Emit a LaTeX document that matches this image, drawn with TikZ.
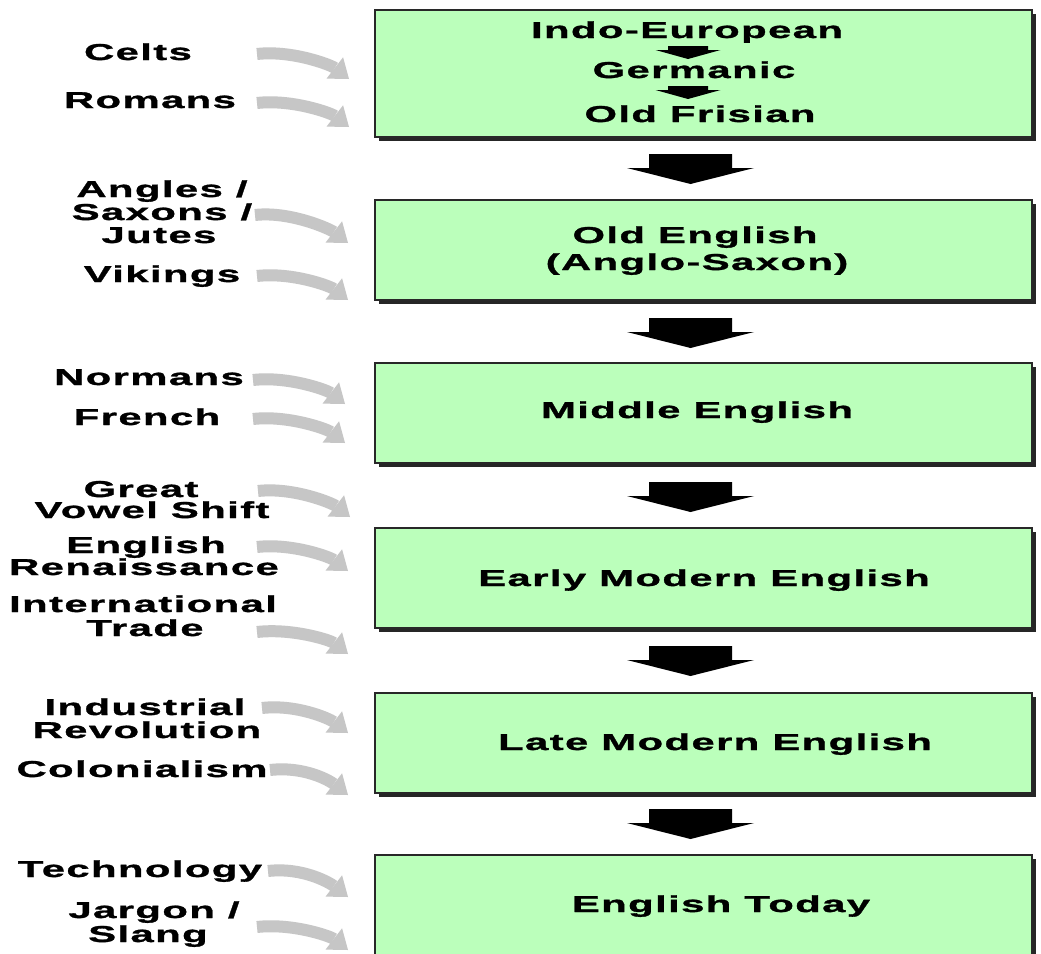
\documentclass[tikz,border=0pt]{standalone}
\usepackage{fontspec}
\newfontfamily\dfont{Liberation Sans}[FakeStretch=1.82,LetterSpace=6,FakeBold=1.3]
\usetikzlibrary{arrows.meta,shadows}
\definecolor{boxgreen}{RGB}{187,255,187}
\definecolor{garrowc}{RGB}{198,198,198}
\definecolor{boxline}{RGB}{40,40,40}
\tikzset{
 lbl/.style={font=\dfont\bfseries\fontsize{23}{23}\selectfont, inner sep=0pt, anchor=base},
 stage/.style={draw=boxline, line width=2pt, fill=boxgreen, minimum width=657pt, inner sep=0pt,
   drop shadow={shadow xshift=4pt, shadow yshift=-3.5pt, fill=black!85, opacity=1}},
 garrow/.style={draw=garrowc, line width=12pt, -{Triangle[width=27pt,length=18pt,line width=0pt]}},
 bigarr/.pic={\fill[black] (-41.5,0) -- (41.5,0) -- (41.5,14) -- (63.5,14) -- (0,30) -- (-63.5,14) -- (-41.5,14) -- cycle;},
 smallarr/.pic={\fill[black] (-20,0) -- (20,0) -- (20,4) -- (32.5,4) -- (0,13) -- (-32.5,4) -- (-20,4) -- cycle;}
}
\begin{document}
\begin{tikzpicture}[x=1pt,y=-1pt]
\useasboundingbox[fill=white] (0,0) rectangle (1041,953);

% stage boxes
\node[stage, minimum height=127pt] (b1) at (703.5,73.5) {};
\node[stage, minimum height=100pt] (b2) at (703.5,250) {};
\node[stage, minimum height=100pt] (b3) at (703.5,413) {};
\node[stage, minimum height=100pt] (b4) at (703.5,578) {};
\node[stage, minimum height=100pt] (b5) at (703.5,743) {};
\node[stage, minimum height=100pt] (b6) at (703.5,905) {};

% box texts
\node[lbl] (t1) at (687,38) {Indo-European};
\node[lbl] (t2) at (694,78) {Germanic};
\node[lbl] (t3) at (700,122) {Old Frisian};
\node[lbl] (t4) at (695,243) {Old English};
\node[lbl] (t5) at (697,270) {(Anglo-Saxon)};
\node[lbl] (t6) at (697,418) {Middle English};
\node[lbl] (t7) at (704,586) {Early Modern English};
\node[lbl] (t8) at (715,750) {Late Modern English};
\node[lbl] (t9) at (721,912) {English Today};

% small arrows inside first box
\coordinate (s1) at (688,46);
\coordinate (s2) at (688,86);
\pic at (s1) {smallarr};
\pic at (s2) {smallarr};

% big arrows between boxes
\pic at ([xshift=-13pt,yshift=-16pt]b1.south) {bigarr};
\pic at ([xshift=-13pt,yshift=-17pt]b2.south) {bigarr};
\pic at ([xshift=-13pt,yshift=-18pt]b3.south) {bigarr};
\pic at ([xshift=-13pt,yshift=-17pt]b4.south) {bigarr};
\pic at ([xshift=-13pt,yshift=-15pt]b5.south) {bigarr};

% influence labels
\node[lbl] (l1) at (138,60) {Celts};
\node[lbl] (l2) at (150,108) {Romans};
\node[lbl] (l3a) at (162,197) {Angles /};
\node[lbl] (l3b) at (162,220) {Saxons /};
\node[lbl] (l3c) at (159,243) {Jutes};
\node[lbl] (l4) at (162,282) {Vikings};
\node[lbl] (l5) at (149,385) {Normans};
\node[lbl] (l6) at (147,425) {French};
\node[lbl] (l7a) at (141,497) {Great};
\node[lbl] (l7b) at (152,518) {Vowel Shift};
\node[lbl] (l8a) at (146,553) {English};
\node[lbl] (l8b) at (144,575) {Renaissance};
\node[lbl] (l9a) at (143,612) {International};
\node[lbl] (l9b) at (145,636) {Trade};
\node[lbl] (l10a) at (145,715) {Industrial};
\node[lbl] (l10b) at (147,738) {Revolution};
\node[lbl] (l11) at (142,777) {Colonialism};
\node[lbl] (l12) at (140,877) {Technology};
\node[lbl] (l13a) at (154,918) {Jargon /};
\node[lbl] (l13b) at (148,942) {Slang};

% gray influence arrows
\foreach \n/\sx/\sy/\tx/\ty in {1/257/54/349/79, 2/257/103/349/127, 3/255/215/348/243,
  4/257/276/348/300, 5/253/380/345/404, 6/253/419/345/443, 7/258/491/350/517,
  8/257/547/348/571, 9/257/632/348/654, 10/262/708/348/733, 11/270/770/348/795,
  12/268/871/348/897, 13/257/927/348/950}{
  \coordinate (gs\n) at (\sx,\sy);
  \coordinate (ge\n) at (\tx,\ty);
  \draw[garrow] (gs\n) .. controls +(35,-4) and +(-18,-14) .. (ge\n);
}
\end{tikzpicture}
\end{document}
